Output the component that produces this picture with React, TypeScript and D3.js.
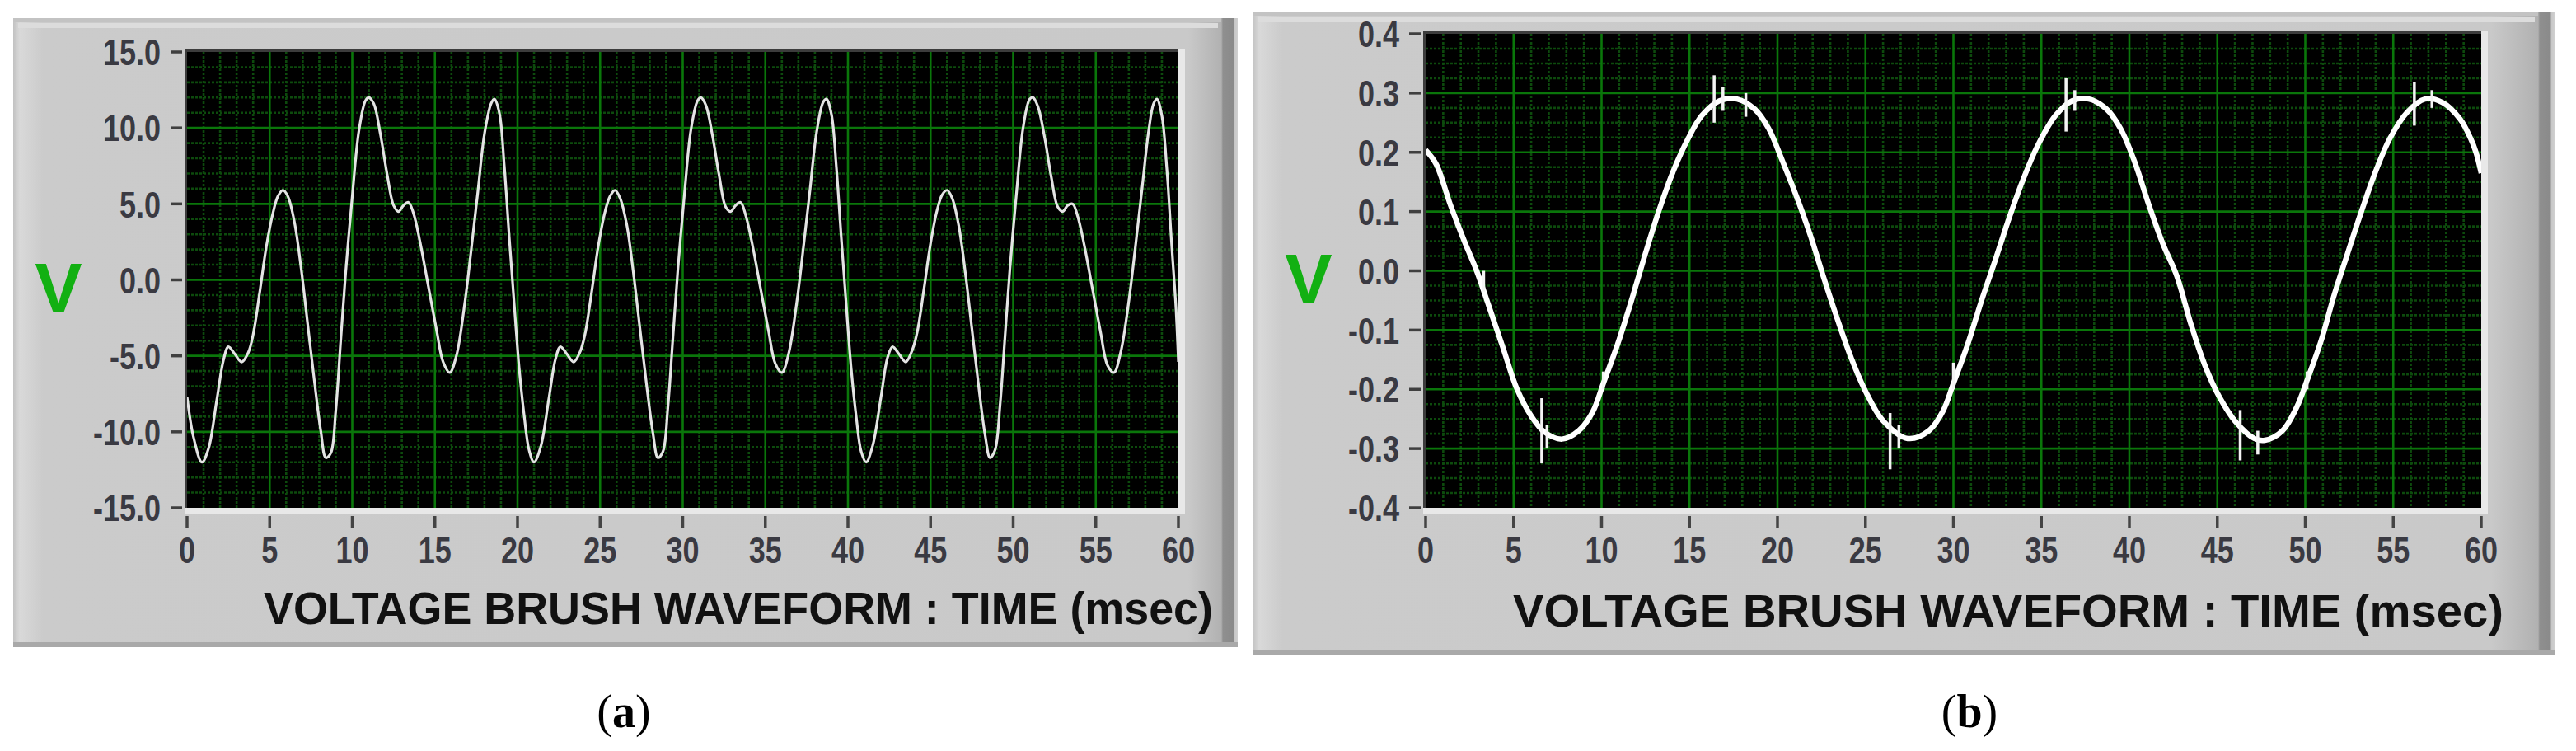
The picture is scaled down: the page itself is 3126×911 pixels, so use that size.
import React from "react";
import * as d3 from "d3";

// ---------- data ----------
const timeTicks = [0, 5, 10, 15, 20, 25, 30, 35, 40, 45, 50, 55, 60];
const voltTicksA = [15, 10, 5, 0, -5, -10, -15];
const voltTicksB = [0.4, 0.3, 0.2, 0.1, 0, -0.1, -0.2, -0.3, -0.4];
const axisTitle = "VOLTAGE BRUSH WAVEFORM : TIME (msec)";
const unitLabel = "V";
const panelLetters = ["a", "b"];

// (a) brush voltage waveform, [time msec, volts]
const waveA: [number, number][] = [
  [0.0, -7.7], [0.4, -10.4], [0.9, -12.0], [1.3, -11.1], [1.8, -7.9], [2.2, -5.3], [2.5, -4.4], [2.9, -4.9],
  [3.3, -5.4], [3.7, -4.8], [4.0, -3.6], [4.4, -0.8], [4.8, 2.2], [5.2, 4.4], [5.5, 5.5], [5.8, 5.9],
  [6.1, 5.5], [6.5, 3.8], [6.9, 0.8], [7.3, -2.9], [7.7, -6.6], [8.1, -10.0], [8.4, -11.7], [8.7, -11.4],
  [9.0, -8.6], [9.3, -4.0], [9.6, 0.5], [10.0, 5.5], [10.4, 9.8], [10.8, 11.8], [11.0, 12.0], [11.3, 11.6],
  [11.7, 9.6], [12.1, 7.0], [12.5, 4.9], [12.8, 4.5], [13.1, 4.9], [13.4, 5.1], [13.7, 4.4], [14.1, 2.5],
  [14.6, -0.4], [15.1, -3.3], [15.5, -5.4], [15.9, -6.1], [16.3, -5.0], [16.8, -1.6], [17.2, 2.0], [17.6, 5.8],
  [18.0, 9.6], [18.4, 11.6], [18.6, 11.9], [18.9, 11.0], [19.2, 7.5], [19.5, 2.8], [19.8, -1.6],
  [20.1, -5.8], [20.4, -8.9], [20.7, -11.2], [21.0, -12.0], [21.4, -11.0], [21.9, -7.8], [22.3, -5.2], [22.6, -4.4],
  [23.0, -4.9], [23.4, -5.4], [23.8, -4.7], [24.1, -3.5], [24.5, -0.7], [24.9, 2.3], [25.3, 4.5], [25.6, 5.5],
  [25.9, 5.9], [26.2, 5.4], [26.6, 3.7], [27.0, 0.6], [27.4, -3.1], [27.8, -6.8], [28.2, -10.1], [28.5, -11.7],
  [28.8, -11.3], [29.1, -8.4], [29.4, -3.9], [29.7, 0.6], [30.1, 5.6], [30.5, 9.9], [30.9, 11.8], [31.1, 12.0],
  [31.4, 11.5], [31.8, 9.5], [32.2, 6.9], [32.6, 4.8], [32.9, 4.5], [33.2, 4.9], [33.5, 5.1], [33.8, 4.3],
  [34.2, 2.4], [34.7, -0.5], [35.2, -3.4], [35.6, -5.5], [36.0, -6.1], [36.4, -4.9], [36.9, -1.5], [37.3, 2.1],
  [37.7, 5.9], [38.1, 9.7], [38.5, 11.7], [38.7, 11.9], [39.0, 10.9], [39.3, 7.4], [39.6, 2.7], [39.9, -1.7],
  [40.2, -5.9], [40.5, -9.0], [40.8, -11.3], [41.1, -12.0], [41.5, -10.9], [42.0, -7.7], [42.4, -5.1], [42.7, -4.4],
  [43.1, -4.9], [43.5, -5.4], [43.9, -4.6], [44.2, -3.4], [44.6, -0.6], [45.0, 2.4], [45.4, 4.6], [45.7, 5.6],
  [46.0, 5.9], [46.3, 5.4], [46.7, 3.6], [47.1, 0.5], [47.5, -3.2], [47.9, -6.9], [48.3, -10.2], [48.6, -11.7],
  [48.9, -11.2], [49.2, -8.3], [49.5, -3.8], [49.8, 0.7], [50.2, 5.7], [50.6, 10.0], [51.0, 11.9], [51.2, 12.0],
  [51.5, 11.4], [51.9, 9.4], [52.3, 6.8], [52.7, 4.8], [53.0, 4.5], [53.3, 4.9], [53.6, 5.0], [53.9, 4.2],
  [54.3, 2.3], [54.8, -0.6], [55.3, -3.5], [55.7, -5.6], [56.1, -6.1], [56.5, -4.8], [57.0, -1.4], [57.4, 2.2],
  [57.8, 6.0], [58.2, 9.8], [58.5, 11.6], [58.7, 11.9], [59.0, 10.8], [59.3, 7.3], [59.6, 2.2], [59.85, -1.8], [60.0, -5.4],
];

// (b) brush voltage waveform, [time msec, volts]
const waveB: [number, number][] = [
  [0.0, 0.204], [0.6, 0.18], [1.4, 0.112], [2.2, 0.05], [2.9, 0.0], [3.6, -0.06], [4.4, -0.13], [5.2, -0.2],
  [6.0, -0.245], [6.75, -0.272], [7.75, -0.284], [8.7, -0.27], [9.5, -0.238], [10.1, -0.19], [10.9, -0.125],
  [11.7, -0.05], [12.5, 0.03], [13.3, 0.105], [14.1, 0.17], [14.9, 0.222], [15.7, 0.262], [16.7, 0.287],
  [17.7, 0.29], [18.7, 0.273], [19.5, 0.24], [20.3, 0.184], [21.1, 0.124], [21.9, 0.057], [22.6, -0.009],
  [23.4, -0.081], [24.2, -0.148], [25.0, -0.203], [26.0, -0.253], [27.4, -0.283], [28.6, -0.27], [29.4, -0.237],
  [30.0, -0.19], [30.8, -0.125], [31.6, -0.05], [32.4, 0.02], [33.2, 0.092], [34.0, 0.157], [34.8, 0.212],
  [35.8, 0.262], [36.75, 0.287], [37.7, 0.29], [38.7, 0.273], [39.5, 0.24], [40.3, 0.184], [41.1, 0.112],
  [41.9, 0.046], [42.7, -0.009], [43.5, -0.09], [44.3, -0.16], [45.1, -0.212], [46.1, -0.257], [47.1, -0.283],
  [47.7, -0.286], [48.7, -0.27], [49.5, -0.231], [50.1, -0.185], [50.9, -0.118], [51.6, -0.045], [52.4, 0.029],
  [53.2, 0.101], [54.0, 0.168], [54.8, 0.223], [55.8, 0.268], [56.8, 0.29], [57.8, 0.284], [58.8, 0.256],
  [59.4, 0.223], [59.7, 0.2], [60.0, 0.165],
];

// (b) noise spikes, [time msec, low volts, high volts]
const spikesB: [number, number, number][] = [
  [3.3, -0.035, 0.0], [6.6, -0.325, -0.215], [6.9, -0.3, -0.26], [10.1, -0.2, -0.17], [16.4, 0.25, 0.33],
  [16.9, 0.27, 0.31], [18.2, 0.26, 0.3], [26.4, -0.335, -0.24], [26.9, -0.3, -0.26], [30.0, -0.2, -0.155],
  [36.4, 0.235, 0.325], [36.9, 0.27, 0.305], [46.3, -0.32, -0.235], [47.3, -0.31, -0.27], [50.1, -0.2, -0.17],
  [56.2, 0.245, 0.318], [57.2, 0.275, 0.305],
];

// ---------- layout ----------
type PanelCfg = {
  frame: { x0: number; y0: number; x1: number; y1: number };
  plot: { left: number; right: number; top: number; bottom: number };
  yDomain: [number, number];
  yTicks: number[];
  yMinor: number;
  wave: [number, number][];
  lineWidth: number;
  lineColor: string;
  spikes?: [number, number, number][];
  title: { x0: number; x1: number; base: number };
  vLabel: { x: number; y: number };
  letter: string;
  letterX: number;
  id: string;
};

const panels: PanelCfg[] = [
  {
    id: "a",
    frame: { x0: 16, y0: 22, x1: 1502, y1: 785 },
    plot: { left: 227, right: 1430, top: 63, bottom: 616 },
    yDomain: [-15, 15],
    yTicks: voltTicksA,
    yMinor: 1,
    wave: waveA,
    lineWidth: 3.2,
    lineColor: "#e4e4e4",
    title: { x0: 320, x1: 1472, base: 757 },
    vLabel: { x: 71, y: 379 },
    letter: panelLetters[0],
    letterX: 757,
  },
  {
    id: "b",
    frame: { x0: 1520, y0: 15, x1: 3100, y1: 794 },
    plot: { left: 1730, right: 3011, top: 41, bottom: 616 },
    yDomain: [-0.4, 0.4],
    yTicks: voltTicksB,
    yMinor: 0.025,
    wave: waveB,
    lineWidth: 6.5,
    lineColor: "#ffffff",
    spikes: spikesB,
    title: { x0: 1836, x1: 3038, base: 760 },
    vLabel: { x: 1588, y: 368 },
    letter: panelLetters[1],
    letterX: 2390,
  },
];

const labelFont = "'Liberation Sans', Arial, sans-serif";

function Panel({ cfg }: { cfg: PanelCfg }) {
  const { frame, plot } = cfg;
  const x = d3.scaleLinear().domain([0, 60]).range([plot.left, plot.right]);
  const y = d3.scaleLinear().domain(cfg.yDomain).range([plot.bottom, plot.top]);
  const line = d3
    .line<[number, number]>()
    .x((d) => x(d[0]))
    .y((d) => y(d[1]))
    .curve(d3.curveCatmullRom.alpha(0.5));

  const xMinor = d3.range(0, 60.001, 1).filter((t) => Math.round(t) % 5 !== 0);
  const yMajorStep = Math.abs(cfg.yTicks[0] - cfg.yTicks[1]);
  const nMinor = Math.round((cfg.yDomain[1] - cfg.yDomain[0]) / cfg.yMinor);
  const yMinor = d3
    .range(0, nMinor + 1)
    .map((i) => cfg.yDomain[0] + i * cfg.yMinor)
    .filter((v) => {
      const r = (v - cfg.yDomain[0]) / yMajorStep;
      return Math.abs(r - Math.round(r)) > 1e-6;
    });

  const W = frame.x1 - frame.x0;
  const H = frame.y1 - frame.y0;
  const clipId = `clip-${cfg.id}`;

  return (
    <g>
      <defs>
        <linearGradient id={`lg-${cfg.id}`} x1="0" x2="1" y1="0" y2="0">
          <stop offset="0" stopColor="#c2c2c2" />
          <stop offset={8 / W} stopColor="#d9d9d9" />
          <stop offset={36 / W} stopColor="#cbcbcb" />
          <stop offset={(plot.right + 12 - frame.x0) / W} stopColor="#c9c9c9" />
          <stop offset={(W - 20) / W} stopColor="#b1b1b1" />
          <stop offset={(W - 18) / W} stopColor="#8f8f8f" />
          <stop offset={(W - 5) / W} stopColor="#8a8a8a" />
          <stop offset={(W - 4) / W} stopColor="#c6c6c6" />
          <stop offset="1" stopColor="#d0d0d0" />
        </linearGradient>
        <clipPath id={clipId}>
          <rect x={plot.left} y={plot.top} width={plot.right - plot.left} height={plot.bottom - plot.top} />
        </clipPath>
      </defs>
      {/* panel */}
      <rect x={frame.x0} y={frame.y0} width={W} height={H} fill={`url(#lg-${cfg.id})`} />
      <rect x={frame.x0} y={frame.y0} width={W - 20} height={5} fill="#c3c3c3" />
      <rect x={frame.x0 + 6} y={frame.y0 + 6} width={W - 30} height={6} fill="#dcdcdc" />
      <rect x={frame.x0} y={frame.y1 - 6} width={W} height={6} fill="#a9a9a9" />

      {/* plot frame */}
      <rect x={plot.left - 3} y={plot.top - 3} width={plot.right - plot.left + 11} height={plot.bottom - plot.top + 11} fill="#e8e8e8" />
      <rect x={plot.left - 3} y={plot.top - 3} width={plot.right - plot.left + 3} height={plot.bottom - plot.top + 3} fill="#3c3c3c" />
      <rect x={plot.left} y={plot.top} width={plot.right - plot.left} height={plot.bottom - plot.top} fill="#000000" />

      {/* minor grid */}
      <g stroke="#0d4a0d" strokeWidth={2.6} strokeDasharray="3 2">
        {xMinor.map((t) => (
          <line key={`xm${t}`} x1={x(t)} x2={x(t)} y1={plot.top} y2={plot.bottom} />
        ))}
        {yMinor.map((v) => (
          <line key={`ym${v}`} x1={plot.left} x2={plot.right} y1={y(v)} y2={y(v)} />
        ))}
      </g>
      {/* major grid */}
      <g stroke="#0a760a" strokeWidth={2.6}>
        {timeTicks.slice(1, -1).map((t) => (
          <line key={`xg${t}`} x1={x(t)} x2={x(t)} y1={plot.top} y2={plot.bottom} />
        ))}
        {cfg.yTicks.slice(1, -1).map((v) => (
          <line key={`yg${v}`} x1={plot.left} x2={plot.right} y1={y(v)} y2={y(v)} />
        ))}
      </g>

      {/* waveform */}
      <g clipPath={`url(#${clipId})`}>
        <path d={line(cfg.wave) || ""} fill="none" stroke={cfg.lineColor} strokeWidth={cfg.lineWidth} strokeLinejoin="round" />
        {cfg.spikes &&
          cfg.spikes.map((s, i) => (
            <line key={`sp${i}`} x1={x(s[0])} x2={x(s[0])} y1={y(s[1])} y2={y(s[2])} stroke="#f4f4f4" strokeWidth={3.5} />
          ))}
      </g>

      {/* y axis */}
      <g>
        {cfg.yTicks.map((v) => (
          <g key={`yt${v}`}>
            <line x1={plot.left - 20} x2={plot.left - 6} y1={y(v)} y2={y(v)} stroke="#3f3f3f" strokeWidth={3.5} />
            <g transform={`translate(${plot.left - 32},${y(v)}) scale(0.8,1)`}>
              <text textAnchor="end" dy="0.36em" fontFamily={labelFont} fontWeight="bold" fontSize={45} fill="#3a3a42">
                {v.toFixed(1)}
              </text>
            </g>
          </g>
        ))}
      </g>
      {/* x axis */}
      <g>
        {timeTicks.map((t) => (
          <g key={`xt${t}`}>
            <line x1={x(t)} x2={x(t)} y1={plot.bottom + 10} y2={plot.bottom + 25} stroke="#444444" strokeWidth={3.5} />
            <g transform={`translate(${x(t)},${plot.bottom + 67}) scale(0.8,1)`}>
              <text textAnchor="middle" fontFamily={labelFont} fontWeight="bold" fontSize={45} fill="#3a3a42">
                {String(t)}
              </text>
            </g>
          </g>
        ))}
      </g>

      {/* axis title */}
      <text
        x={cfg.title.x0}
        y={cfg.title.base}
        textLength={cfg.title.x1 - cfg.title.x0}
        lengthAdjust="spacingAndGlyphs"
        fontFamily={labelFont}
        fontWeight="bold"
        fontSize={56}
        fill="#111111"
      >
        {axisTitle}
      </text>

      {/* unit label */}
      <text x={cfg.vLabel.x} y={cfg.vLabel.y} textAnchor="middle" fontFamily={labelFont} fontWeight="bold" fontSize={86} fill="#12b012">
        {unitLabel}
      </text>

      {/* panel letter */}
      <text x={cfg.letterX} y={882} textAnchor="middle" fontFamily="'Liberation Serif', 'Times New Roman', serif" fontSize={56} fill="#000">
        (<tspan fontWeight="bold">{cfg.letter}</tspan>)
      </text>
    </g>
  );
}

export default function App() {
  return (
    <svg
      width={3126}
      height={911}
      viewBox="0 0 3126 911"
      style={{ position: "absolute", left: 0, top: 0, background: "#ffffff" }}
    >
      <rect x={0} y={0} width={3126} height={911} fill="#ffffff" />
      {panels.map((p) => (
        <Panel key={p.id} cfg={p} />
      ))}
    </svg>
  );
}
